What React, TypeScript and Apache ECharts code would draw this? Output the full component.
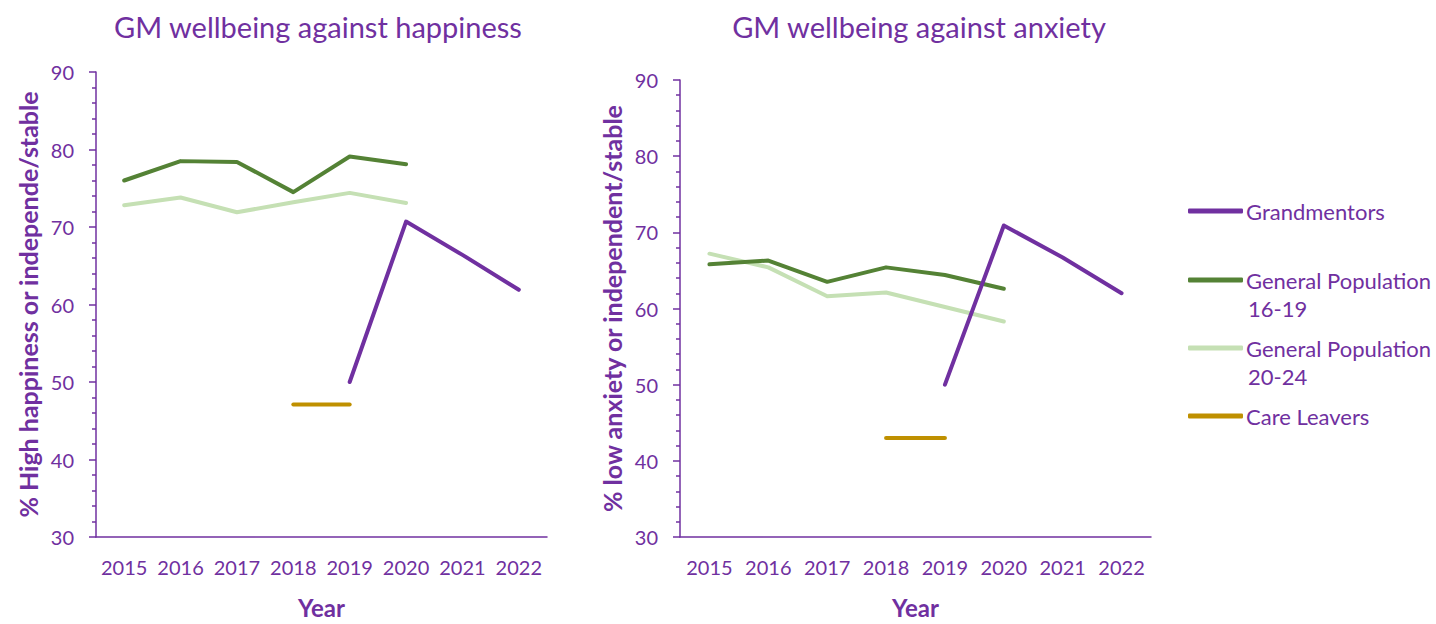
import React, { useEffect, useRef } from "react";
import * as echarts from "echarts";

const years = ["2015", "2016", "2017", "2018", "2019", "2020", "2021", "2022"];

// Happiness chart
const happyGrandmentors = [null, null, null, null, 50.0, 70.7, 66.4, 61.9];
const happyGP1619 = [76.0, 78.5, 78.4, 74.5, 79.1, 78.1, null, null];
const happyGP2024 = [72.8, 73.8, 71.9, 73.2, 74.4, 73.1, null, null];
const happyCareLeavers = [null, null, null, 47.1, 47.1, null, null, null];

// Anxiety chart
const anxGrandmentors = [null, null, null, null, 50.0, 70.9, 66.7, 62.0];
const anxGP1619 = [65.8, 66.3, 63.5, 65.4, 64.4, 62.6, null, null];
const anxGP2024 = [67.2, 65.4, 61.6, 62.1, 60.2, 58.3, null, null];
const anxCareLeavers = [null, null, null, 43.0, 43.0, null, null, null];

const seriesNames = ["Grandmentors", "General Population 16-19", "General Population 20-24", "Care Leavers"];
const legendFirstLines = ["Grandmentors", "General Population", "General Population", "Care Leavers"];
const legendSecondLines = ["", "16-19", "20-24", ""];
const colors = ["#7030A0", "#548235", "#C5E0B4", "#BF9000"];

const PURPLE = "#7030A0";
const FONT = "Lato";

export default function App() {
  const ref = useRef<HTMLDivElement>(null);
  useEffect(() => {
    if (!ref.current) return;
    const chart = echarts.init(ref.current, null, { renderer: "svg" });

    const xAxisBase = (gridIndex: number) => ({
      type: "category" as const,
      gridIndex,
      data: years,
      boundaryGap: true,
      name: "Year",
      nameLocation: "middle" as const,
      nameGap: 58,
      nameTextStyle: { color: PURPLE, fontSize: 24, fontWeight: "bold" as const, fontFamily: FONT },
      axisLine: { lineStyle: { color: PURPLE, width: 1.5 } },
      axisTick: { alignWithLabel: true, length: 6, lineStyle: { color: PURPLE, width: 1.5 } },
      axisLabel: { color: PURPLE, fontSize: 20, fontFamily: FONT, margin: 20, interval: 0 },
      splitLine: { show: false },
    });
    const yAxisBase = (gridIndex: number, name: string) => ({
      type: "value" as const,
      gridIndex,
      min: 30,
      max: 90,
      interval: 10,
      name,
      nameLocation: "middle" as const,
      nameGap: 56,
      nameTextStyle: { color: PURPLE, fontSize: 25, fontWeight: "bold" as const, fontFamily: FONT },
      axisLine: { show: true, lineStyle: { color: PURPLE, width: 1.5 } },
      axisTick: { show: true, length: 7, lineStyle: { color: PURPLE, width: 1.5 } },
      minorTick: { show: true, splitNumber: 5, length: 4, lineStyle: { color: PURPLE, width: 1.5 } },
      axisLabel: { color: PURPLE, fontSize: 20, fontFamily: FONT, margin: 22 },
      splitLine: { show: false },
    });

    const mkLine = (name: string, data: (number | null)[], color: string, idx: number) => ({
      type: "line" as const,
      name,
      data,
      xAxisIndex: idx,
      yAxisIndex: idx,
      symbol: "none",
      connectNulls: false,
      color,
      lineStyle: { color, width: 4, cap: "round" as const, join: "round" as const },
    });

    const happy = [happyGrandmentors, happyGP1619, happyGP2024, happyCareLeavers];
    const anx = [anxGrandmentors, anxGP1619, anxGP2024, anxCareLeavers];
    const series: any[] = [];
    const order = [2, 1, 3, 0];
    order.forEach((i) => series.push(mkLine(seriesNames[i], happy[i], colors[i], 0)));
    order.forEach((i) => series.push(mkLine(seriesNames[i], anx[i], colors[i], 1)));

    const legendCenters = [211, 280, 348, 416];
    const legends = seriesNames.map((n, i) => ({
      data: [n],
      left: 1188,
      top: legendCenters[i] - 12,
      padding: 0,
      icon: "roundRect",
      itemWidth: 55,
      itemHeight: 5,
      itemGap: 0,
      selectedMode: false,
      formatter: () => legendFirstLines[i],
      textStyle: { color: PURPLE, fontSize: 22, fontFamily: FONT, lineHeight: 24, padding: [0, 0, 0, -2] },
      itemStyle: { color: colors[i] },
    }));

    const secondLineTexts = legendSecondLines
      .map((t, i) => ({ t, i }))
      .filter((o) => o.t)
      .map((o) => ({
        type: "text",
        left: 1248,
        top: legendCenters[o.i] + 28 - 12,
        style: { text: o.t, fill: PURPLE, fontSize: 22, fontFamily: FONT, lineHeight: 24 },
      }));

    chart.setOption({
      animation: false,
      textStyle: { fontFamily: FONT },
      title: [
        { text: "GM wellbeing against happiness", left: 313, top: 7, textAlign: "center", textStyle: { color: PURPLE, fontSize: 29, fontWeight: "normal", fontFamily: FONT } },
        { text: "GM wellbeing against anxiety", left: 914, top: 7, textAlign: "center", textStyle: { color: PURPLE, fontSize: 29, fontWeight: "normal", fontFamily: FONT } },
      ],
      legend: legends,
      graphic: secondLineTexts,
      grid: [
        { left: 96, top: 72, width: 451, height: 471 },
        { left: 680, top: 80, width: 471, height: 463 },
      ],
      xAxis: [xAxisBase(0), xAxisBase(1)],
      yAxis: [
        yAxisBase(0, "% High happiness or independe/stable"),
        yAxisBase(1, "% low anxiety or independent/stable"),
      ],
      series,
    });
    return () => chart.dispose();
  }, []);
  return <div ref={ref} style={{ position: "absolute", left: 0, top: 0, width: 1436, height: 624 }} />;
}
